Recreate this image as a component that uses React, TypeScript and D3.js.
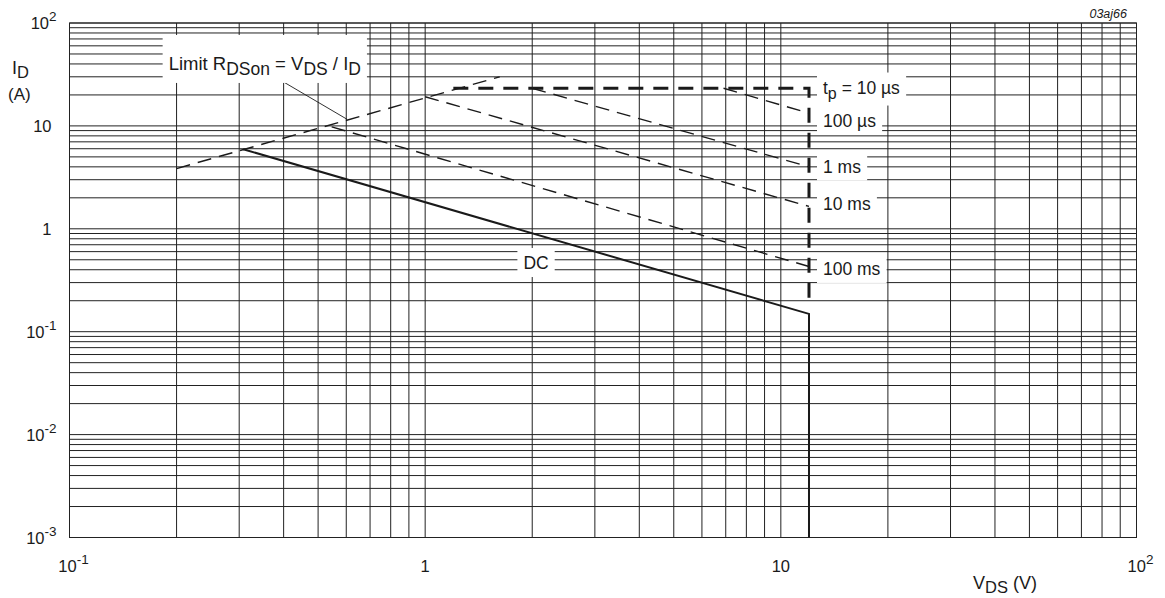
import React, { useEffect, useRef } from 'react';
import * as d3 from 'd3';

const W = 1165;
const H = 598;
const FONT = "'Liberation Sans', Arial, Helvetica, sans-serif";

// axis domains
const X_DOMAIN: [number, number] = [0.1, 100];
const Y_DOMAIN: [number, number] = [0.001, 100];

// tick labels: base + exponent
const xTickValues = [0.1, 1, 10, 100];
const xTickBase = ['10', '1', '10', '10'];
const xTickExp = ['-1', '', '', '2'];
const yTickValues = [100, 10, 1, 0.1, 0.01, 0.001];
const yTickBase = ['10', '10', '1', '10', '10', '10'];
const yTickExp = ['2', '', '', '-1', '-2', '-3'];

// series (V_DS in V, I_D in A)
const rdsonV = [0.2, 1.62];
const rdsonI = [3.85, 30];
const dcV = [0.308, 12, 12];
const dcI = [5.93, 0.149, 0.001];
const tp10usV = [1.2, 12, 12];
const tp10usI = [23.2, 23.2, 0.19];
const tp100usV = [6.9, 12];
const tp100usI = [23.2, 13.3];
const tp1msV = [2.0, 12];
const tp1msI = [23.2, 4.0];
const tp10msV = [1.0, 12];
const tp10msI = [19.2, 1.65];
const tp100msV = [0.546, 12];
const tp100msI = [9.8, 0.43];

// annotations: label text parts, anchored in data coords
type Part = { t: string; sub?: boolean };
const labelParts: Part[][] = [
  [{ t: 't' }, { t: 'p', sub: true }, { t: ' = 10 µs' }],
  [{ t: '100 µs' }],
  [{ t: '1 ms' }],
  [{ t: '10 ms' }],
  [{ t: '100 ms' }],
  [{ t: 'DC' }],
  [{ t: 'Limit R' }, { t: 'DSon', sub: true }, { t: ' = V' }, { t: 'DS', sub: true }, { t: ' / I' }, { t: 'D', sub: true }],
];
const labelV = [12, 12, 12, 12, 12, 2.05, 0.19];
const labelI = [23.6, 11.2, 4.03, 1.74, 0.407, 0.465, 40];
const leaderV = [0.4, 0.603];
const leaderI = [26.7, 11.6];

export default function App() {
  const ref = useRef<SVGSVGElement | null>(null);

  useEffect(() => {
    const svg = d3.select(ref.current);
    svg.selectAll('*').remove();

    const x = d3.scaleLog().domain(X_DOMAIN).range([69.5, 1136.5]);
    const y = d3.scaleLog().domain(Y_DOMAIN).range([537.5, 23]);
    const [x0, x1] = x.range();
    const [y0, y1] = y.range();

    svg.append('rect').attr('width', W).attr('height', H).attr('fill', '#fff');

    // grid
    const grid = svg.append('g').attr('stroke', '#222').attr('stroke-width', 1).attr('fill', 'none');
    x.ticks().forEach((t) => {
      grid.append('line').attr('x1', x(t)).attr('x2', x(t)).attr('y1', y1).attr('y2', y0);
    });
    y.ticks().forEach((t) => {
      grid.append('line').attr('y1', y(t)).attr('y2', y(t)).attr('x1', x0).attr('x2', x1);
    });
    grid.append('rect').attr('x', x0).attr('y', y1).attr('width', x1 - x0).attr('height', y0 - y1);

    const line = d3
      .line<[number, number]>()
      .x((d) => x(d[0]))
      .y((d) => y(d[1]));
    const pts = (vs: number[], is: number[]) => vs.map((v, k) => [v, is[k]] as [number, number]);

    const lines = svg.append('g').attr('fill', 'none').attr('stroke', '#1a1a1a');
    const thin = [
      pts(rdsonV, rdsonI),
      pts(tp100usV, tp100usI),
      pts(tp1msV, tp1msI),
      pts(tp10msV, tp10msI),
      pts(tp100msV, tp100msI),
    ];
    thin.forEach((p) => {
      lines.append('path').attr('d', line(p)).attr('stroke-width', 1.4).attr('stroke-dasharray', '14,8');
    });
    lines.append('path').attr('d', line(pts(dcV, dcI))).attr('stroke-width', 2);
    lines
      .append('path')
      .attr('d', line(pts(tp10usV, tp10usI)))
      .attr('stroke-width', 3)
      .attr('stroke-dasharray', '15,10');

    // leader
    lines
      .append('path')
      .attr('d', line(pts(leaderV, leaderI)))
      .attr('stroke-width', 0.9);

    // labels
    const labs = svg.append('g').attr('font-family', FONT).attr('fill', '#1a1a1a');
    labelParts.forEach((parts, k) => {
      const g = labs.append('g');
      const rect = g.append('rect').attr('fill', '#fff');
      const isDC = k === 5;
      const isLimit = k === 6;
      const main = isLimit ? 18.5 : 17.5;
      const subSize = isLimit ? 17.5 : 16;
      const px = isDC || isLimit ? x(labelV[k]) : x(labelV[k]) + 14;
      const py = y(labelI[k]) + 6;
      const text = g
        .append('text')
        .attr('x', px)
        .attr('y', py)
        .attr('font-size', main)
        .attr('text-anchor', isDC ? 'middle' : 'start');
      let shifted = false;
      parts.forEach((p) => {
        const ts = text.append('tspan').text(p.t);
        if (p.sub && !shifted) {
          ts.attr('dy', 5).attr('font-size', subSize);
          shifted = true;
        } else if (p.sub) {
          ts.attr('font-size', subSize);
        } else if (shifted) {
          ts.attr('dy', -5);
          shifted = false;
        }
      });
      const bb = (text.node() as SVGTextElement).getBBox();
      const padX = 6;
      const padTop = isLimit ? 18 : 5;
      const padBot = 4;
      rect
        .attr('x', bb.x - padX)
        .attr('y', bb.y - padTop)
        .attr('width', bb.width + 2 * padX)
        .attr('height', bb.height + padTop + padBot);
    });

    // tick labels
    const ticks = svg.append('g').attr('font-family', FONT).attr('fill', '#1a1a1a').attr('font-size', 16.5);
    yTickValues.forEach((v, k) => {
      const hasExp = yTickExp[k] !== '';
      const t = ticks
        .append('text')
        .attr('x', hasExp ? x0 - 13 : x0 - 18)
        .attr('y', y(v) + 6)
        .attr('text-anchor', 'end');
      t.append('tspan').text(yTickBase[k]);
      if (hasExp) t.append('tspan').attr('dy', -8).attr('font-size', 13.5).text(yTickExp[k]);
    });
    xTickValues.forEach((v, k) => {
      const hasExp = xTickExp[k] !== '';
      const t = ticks
        .append('text')
        .attr('x', x(v) + (hasExp ? 4 : 0))
        .attr('y', 572)
        .attr('text-anchor', 'middle');
      t.append('tspan').text(xTickBase[k]);
      if (hasExp) t.append('tspan').attr('dy', -8).attr('font-size', 13.5).text(xTickExp[k]);
    });

    // axis titles
    const titles = svg.append('g').attr('font-family', FONT).attr('fill', '#1a1a1a');
    const yt = titles.append('text').attr('x', 12).attr('y', 74).attr('font-size', 18);
    yt.append('tspan').text('I');
    yt.append('tspan').attr('dy', 4).attr('font-size', 16.5).text('D');
    titles.append('text').attr('x', 8).attr('y', 100).attr('font-size', 17).text('(A)');
    const xt = titles.append('text').attr('x', 973).attr('y', 589).attr('font-size', 18);
    xt.append('tspan').text('V');
    xt.append('tspan').attr('dy', 4).attr('font-size', 16.5).text('DS');
    xt.append('tspan').attr('dy', -4).text(' (V)');
    titles
      .append('text')
      .attr('x', 1127)
      .attr('y', 18)
      .attr('font-size', 12.5)
      .attr('font-style', 'italic')
      .attr('text-anchor', 'end')
      .text('03aj66');
  }, []);

  return (
    <svg
      ref={ref}
      width={W}
      height={H}
      style={{ position: 'absolute', left: 0, top: 0, display: 'block' }}
    />
  );
}
